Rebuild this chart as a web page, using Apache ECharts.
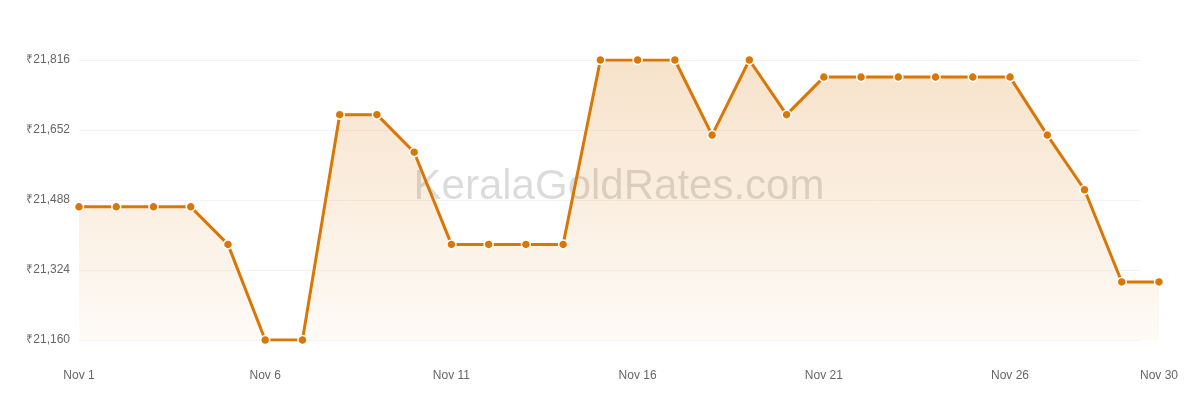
<!DOCTYPE html>
<html>
<head>
<meta charset="utf-8">
<script src="https://cdn.jsdelivr.net/npm/echarts@6/dist/echarts.min.js"></script>
<style>html,body{margin:0;padding:0;background:#fff}#c{width:1200px;height:400px}</style>
</head>
<body>
<div id="c"></div>
<script>
const categories = ['Nov 1','Nov 2','Nov 3','Nov 4','Nov 5','Nov 6','Nov 7','Nov 8','Nov 9','Nov 10',
  'Nov 11','Nov 12','Nov 13','Nov 14','Nov 15','Nov 16','Nov 17','Nov 18','Nov 19','Nov 20',
  'Nov 21','Nov 22','Nov 23','Nov 24','Nov 25','Nov 26','Nov 27','Nov 28','Nov 29','Nov 30'];
const prices = [21472,21472,21472,21472,21384,21160,21160,21688,21688,21600,
  21384,21384,21384,21384,21816,21816,21816,21640,21816,21688,
  21776,21776,21776,21776,21776,21776,21640,21512,21296,21296];
const yTicks = [21160,21324,21488,21652,21816];
const shownLabels = ['Nov 1','Nov 6','Nov 11','Nov 16','Nov 21','Nov 26','Nov 30'];
const watermark = 'KeralaGoldRates.com';

const chart = echarts.init(document.getElementById('c'), null, {renderer:'canvas'});
const fmt = v => '₹' + Number(v).toLocaleString('en-IN');
const font = 'Liberation Sans, Arial, sans-serif';
chart.setOption({
  animation:false,
  grid:[
    {left:79, right:41, top:60, bottom:60, containLabel:false},
    {left:79, right:60, top:60, bottom:60, containLabel:false}
  ],
  xAxis:[{
    type:'category', data:categories, boundaryGap:false, gridIndex:0,
    axisLine:{show:false}, axisTick:{show:false},
    axisLabel:{
      color:'#666', fontSize:12, fontFamily:font, margin:30,
      interval:(i, v)=> shownLabels.indexOf(v) >= 0,
      hideOverlap:false
    },
    splitLine:{show:false}
  },{
    type:'category', data:categories, boundaryGap:false, gridIndex:1, show:false
  }],
  yAxis:[{
    type:'value', gridIndex:0, min:yTicks[0], max:yTicks[yTicks.length-1],
    axisLine:{show:false},
    axisTick:{show:false, customValues:yTicks},
    axisLabel:{customValues:yTicks, formatter:fmt, color:'#666', fontSize:12,
      fontFamily:font, margin:9},
    splitLine:{show:false}
  },{
    type:'value', gridIndex:1, min:yTicks[0], max:yTicks[yTicks.length-1],
    axisLine:{show:false},
    axisTick:{show:false, customValues:yTicks},
    axisLabel:{show:false, customValues:yTicks},
    splitLine:{show:true, customValues:yTicks, lineStyle:{color:'#f3f3f3', width:1}}
  }],
  graphic:[{
    type:'text', x:619, y:166, z:1,
    style:{text:watermark, fontSize:42, fontFamily:font, align:'center',
      fill:'rgba(0,0,0,0.14)'},
    silent:true
  }],
  series:[{
    type:'line', data:prices, z:2, xAxisIndex:0, yAxisIndex:0,
    symbol:'circle', symbolSize:9, showSymbol:true,
    lineStyle:{color:'#d97706', width:3},
    itemStyle:{color:'#d97706', borderColor:'#fff', borderWidth:1.5},
    areaStyle:{
      origin:'start',
      color:new echarts.graphic.LinearGradient(0,0,0,1,[
        {offset:0, color:'rgba(217,119,6,0.30)'},
        {offset:1, color:'rgba(217,119,6,0.05)'}
      ])
    }
  }]
});
</script>
</body>
</html>
